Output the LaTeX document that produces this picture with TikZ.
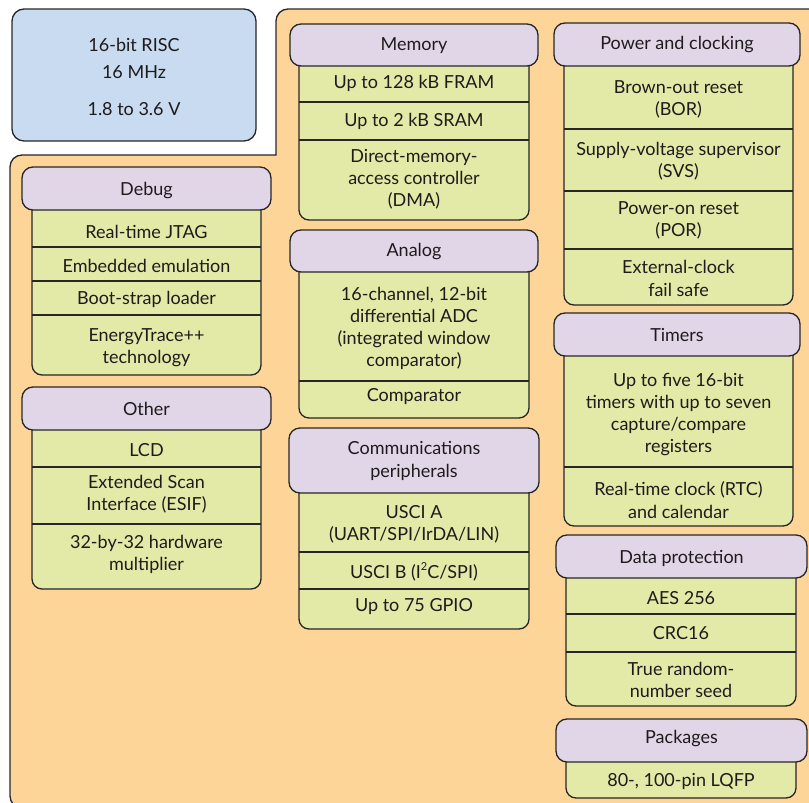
\documentclass[tikz,border=0pt]{standalone}
\usepackage{fontspec}
\setmainfont{Lato}
\definecolor{linec}{HTML}{262626}
\definecolor{txtc}{HTML}{1E1B1C}
\definecolor{bluef}{HTML}{C8DBF0}
\definecolor{orf}{HTML}{FED598}
\definecolor{purf}{HTML}{E1D5E8}
\definecolor{grnf}{HTML}{E3E9A6}
\newcommand\dfont{\fontsize{18}{22.2}\selectfont}
\tikzset{
  ln/.style={draw=linec, line width=1.3pt},
  hdr/.style={ln, fill=purf, rounded corners=11pt},
  bod/.style={ln, fill=grnf, rounded corners=10pt},
  txt/.style={font=\dfont, align=center, text=txtc, inner sep=0pt, yshift=-1.5pt}
}
\begin{document}
\begin{tikzpicture}[x=1pt,y=1pt]
\useasboundingbox (0,0) rectangle (809,-803);
\clip (0,0) rectangle (809,-803);
% CPU box
\draw[ln, fill=bluef, rounded corners=12pt] (12,-9) rectangle (256,-141);
\node[txt] (cpu1) at (134,-43) {16-bit RISC};
\node[txt] (cpu2) at (134,-71) {16 MHz};
\node[txt] (cpu3) at (134,-108) {1.8 to 3.6 V};
% orange background
\draw[ln, fill=orf] (830,-808) -- (22,-808) arc[start angle=270,end angle=180,radius=12]
  -- (10,-167) arc[start angle=180,end angle=90,radius=12] -- (276,-155)
  -- (276,-21) arc[start angle=180,end angle=90,radius=12] -- (830,-9) -- cycle;

% ---------- Memory
\draw[bod] (299,-55) rectangle (529,-220);
\draw[ln] (299,-102) -- (529,-102);
\draw[ln] (299,-140) -- (529,-140);
\node[hdr, minimum width=248pt, minimum height=42pt] (memh) at (414,-45) {};
\node[txt] (memt) at (414,-44) {Memory};
\node[txt] (mem1) at (414,-82) {Up to 128 kB FRAM};
\node[txt] (mem2) at (414,-120) {Up to 2 kB SRAM};
\node[txt] (mem3) at (414,-178) {Direct-memory-\\access controller\\(DMA)};

% ---------- Analog
\draw[bod] (299,-260) rectangle (529,-418);
\draw[ln] (299,-381) -- (529,-381);
\node[hdr, minimum width=248pt, minimum height=42pt] (anah) at (414,-251) {};
\node[txt] (anat) at (414,-250) {Analog};
\node[txt] (ana1) at (414,-327) {16-channel, 12-bit\\differential ADC\\(integrated window\\comparator)};
\node[txt] (ana2) at (414,-395) {Comparator};

% ---------- Communications
\draw[bod] (299,-480) rectangle (529,-629);
\draw[ln] (299,-552) -- (529,-552);
\draw[ln] (299,-589) -- (529,-589);
\node[hdr, minimum width=250pt, minimum height=65pt] (comh) at (414,-460.5) {};
\node[txt] (comt) at (414,-459.5) {Communications\\peripherals};
\node[txt] (com1) at (414,-523) {USCI A\\(UART/SPI/IrDA/LIN)};
\node[txt] (com2) at (414,-570) {USCI B (I\raisebox{0.45em}{\fontsize{11}{11}\selectfont 2}C/SPI)};
\node[txt] (com3) at (414,-605) {Up to 75 GPIO};

% ---------- Power and clocking
\draw[bod] (564,-55) rectangle (793,-305);
\draw[ln] (564,-129) -- (793,-129);
\draw[ln] (564,-191) -- (793,-191);
\draw[ln] (564,-249) -- (793,-249);
\node[hdr, minimum width=246pt, minimum height=43pt] (pwrh) at (677,-44.5) {};
\node[txt] (pwrt) at (677,-43) {Power and clocking};
\node[txt] (pwr1) at (678.5,-97.5) {Brown-out reset\\(BOR)};
\node[txt] (pwr2) at (678.5,-160) {Supply-voltage supervisor\\(SVS)};
\node[txt] (pwr3) at (678.5,-218.5) {Power-on reset\\(POR)};
\node[txt] (pwr4) at (678.5,-277) {External-clock\\fail safe};

% ---------- Timers
\draw[bod] (564,-345) rectangle (793,-526);
\draw[ln] (564,-467) -- (793,-467);
\node[hdr, minimum width=246pt, minimum height=43pt] (timh) at (677,-334.5) {};
\node[txt] (timt) at (677,-334) {Timers};
\node[txt] (tim1) at (678.5,-413) {Up to five 16-bit\\timers with up to seven\\capture/compare\\registers};
\node[txt] (tim2) at (678.5,-498.5) {Real-time clock (RTC)\\and calendar};

% ---------- Data protection
\draw[bod] (566,-565) rectangle (796,-706);
\draw[ln] (566,-614) -- (796,-614);
\draw[ln] (566,-652) -- (796,-652);
\node[hdr, minimum width=251pt, minimum height=43pt] (dath) at (681.5,-556.5) {};
\node[txt] (datt) at (681.5,-557) {Data protection};
\node[txt] (dat1) at (681,-597) {AES 256};
\node[txt] (dat2) at (681,-632) {CRC16};
\node[txt] (dat3) at (681,-678.5) {True random-\\number seed};

% ---------- Packages
\draw[bod] (566,-750) rectangle (796,-798);
\node[hdr, minimum width=251pt, minimum height=43pt] (pkgh) at (681.5,-740.5) {};
\node[txt] (pkgt) at (681.5,-737) {Packages};
\node[txt] (pkg1) at (681,-780) {80-, 100-pin LQFP};

% ---------- Debug
\draw[bod] (32,-200) rectangle (261,-375);
\draw[ln] (32,-247) -- (261,-247);
\draw[ln] (32,-281) -- (261,-281);
\draw[ln] (32,-315) -- (261,-315);
\node[hdr, minimum width=249pt, minimum height=43pt] (dbgh) at (146.5,-188.5) {};
\node[txt] (dbgt) at (146.5,-189) {Debug};
\node[txt] (dbg1) at (146.5,-230) {Real-time JTAG};
\node[txt] (dbg2) at (146.5,-264) {Embedded emulation};
\node[txt] (dbg3) at (146.5,-298) {Boot-strap loader};
\node[txt] (dbg4) at (146.5,-346.5) {EnergyTrace++\\technology};

% ---------- Other
\draw[bod] (32,-420) rectangle (261,-589);
\draw[ln] (32,-467) -- (261,-467);
\draw[ln] (32,-524) -- (261,-524);
\node[hdr, minimum width=249pt, minimum height=43pt] (othh) at (146.5,-408.5) {};
\node[txt] (otht) at (146.5,-407) {Other};
\node[txt] (oth1) at (146.5,-449) {LCD};
\node[txt] (oth2) at (146.5,-493) {Extended Scan\\Interface (ESIF)};
\node[txt] (oth3) at (146.5,-553) {32-by-32 hardware\\multiplier};
\end{tikzpicture}
\end{document}
